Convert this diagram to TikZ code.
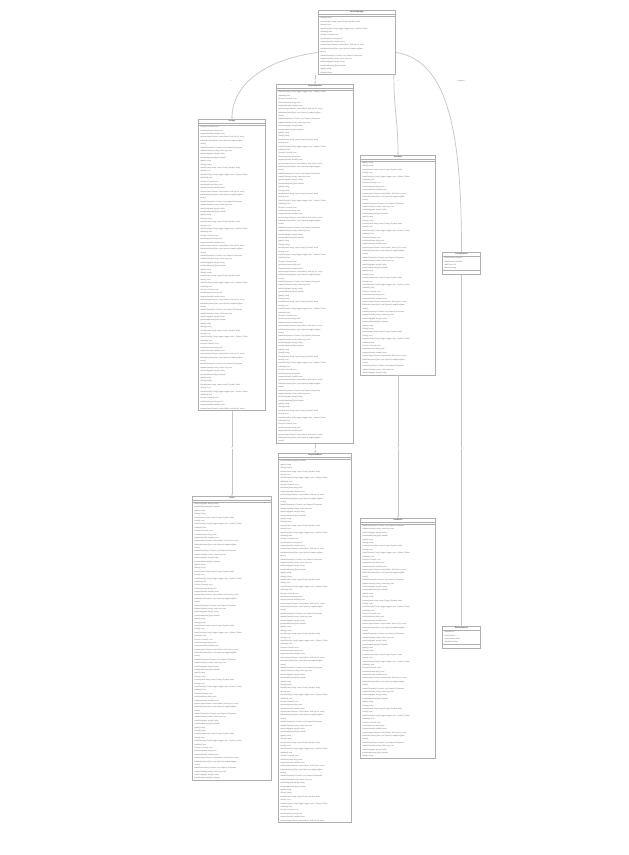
\documentclass[tikz,border=0pt]{standalone}
\usepackage{fontspec}
\setmainfont{Liberation Sans}
\usetikzlibrary{arrows.meta,positioning,shapes.multipart,calc}
\definecolor{ClassLine}{HTML}{B0B0B0}
\definecolor{EdgeLine}{HTML}{C4C4C4}
\definecolor{MemberText}{HTML}{6A6A6A}
\setlength{\parindent}{0pt}

% one member line out of a small pool
\newcommand\memline[1]{\ifcase#1\relax
  +getId() string\or
  +setName(name string) void\or
  +loadConfig(path string) Config\or
  +validate() bool\or
  +handleRequest(ctx Context, req Request) Response\or
  +close() error\or
  -buildIndex(items []Item, opts Options) map[string]Item\or
  +String() string\or
  +register(handler Handler) error\or
  -parseHeader(raw []byte) Header\or
  +Run(ctx Context) error\or
  +updateState(key string, value any) error\or
  +NewClient(cfg Config, logger Logger, opts ...Option) *Client\or
  +reset()\or
  -resolve(name string, scope Scope) (Symbol, bool)\or
  +process(input Stream, output Writer, limit int) (int, error)\fi}
\newcommand\memlines[2]{%
  \foreach \memi in {1,...,#1}{%
    \pgfmathtruncatemacro\memno{mod(\memi*7+#2,16)}%
    \memline{\memno}\par}}
\newcommand\classname[1]{{\centering\bfseries\color{black!75}#1\par}}

\begin{document}
\begin{tikzpicture}[
	x=1mm, y=-1mm,
	cls/.style={draw=ClassLine, line width=0.65mm, fill=white,
		rectangle split, rectangle split parts=3, anchor=north,
		text width=#1, inner xsep=1.5mm, inner ysep=0.8mm,
		font=\fontsize{5}{9.64}\selectfont, text=MemberText, align=left},
	rel/.style={draw=EdgeLine, line width=0.7mm, -{Latex[length=1.8mm,width=1.6mm]}},
	tag/.style={font=\fontsize{4.5}{5}\selectfont, text=MemberText, inner sep=0.3mm}
]
\useasboundingbox[fill=white] (0,0) rectangle (629,855);

% classes
\node[cls=74mm] (manager) at (357,10) {\classname{ServiceManager}\nodepart{two}\nodepart{three}\memlines{17}{0}};
\node[cls=64mm] (storage) at (232,119) {\classname{Storage}\nodepart{two}\nodepart{three}\memlines{84}{3}};
\node[cls=74mm] (handler) at (315,84) {\classname{RequestHandler}\nodepart{two}\nodepart{three}\memlines{104}{5}};
\node[cls=72mm] (sched) at (398,155) {\classname{Scheduler}\nodepart{two}\nodepart{three}\memlines{63}{9}};
\node[cls=35mm] (confopts) at (461.5,252) {\classname{ConfigOptions}\nodepart{two}
	+ReadTimeout Duration\par +WriteTimeout Duration\par +MaxConns int\par +BaseDir string\nodepart{three}\rule{0pt}{2.2mm}};
\node[cls=76mm] (cache) at (232,496) {\classname{Cache}\nodepart{two}\nodepart{three}\memlines{82}{11}};
\node[cls=70mm] (writer) at (315,453) {\classname{ResponseWriter}\nodepart{two}\nodepart{three}\memlines{107}{2}};
\node[cls=72mm] (worker) at (398,518) {\classname{JobWorker}\nodepart{two}\nodepart{three}\memlines{69}{13}};
\node[cls=35mm] (workopts) at (461.5,626) {\classname{WorkerOptions}\nodepart{two}
	+PoolSize int\par +RetryLimit int\par +QueueName string\par +Backoff Duration\nodepart{three}\rule{0pt}{2.2mm}};

% relations
\draw[rel] ($(manager.west)+(0,10)$) .. controls +(-60,8) and +(0,-30) .. (storage.north);
\draw[rel] (manager.south -| handler.north) -- (handler.north);
\draw[rel] ($(manager.south east)+(-2,0)$) .. controls +(0,35) and +(0,-35) .. (sched.north);
\draw[rel] ($(manager.east)+(0,10)$) .. controls +(55,8) and +(0,-110) .. (confopts.north);
\draw[rel] (storage.south) -- (cache.north);
\draw[rel] (handler.south) -- (writer.north);
\draw[rel] (sched.south) -- (worker.north);
\draw[rel] (confopts.south) -- (workopts.north);

% labels
\node[tag] (l1) at (231,81) {1};
\node[tag, fill=white] (l2) at (315,80) {1};
\node[tag] (l3) at (398,81) {1};
\node[tag] (l4) at (461,81) {configures};
\node[tag, fill=white] (l5) at (232,448) {1};
\node[tag, fill=white] (l6) at (315,449) {1};
\node[tag, fill=white] (l7) at (398,448) {1};
\node[tag, fill=white] (l8) at (462,448) {1};
\end{tikzpicture}
\end{document}
